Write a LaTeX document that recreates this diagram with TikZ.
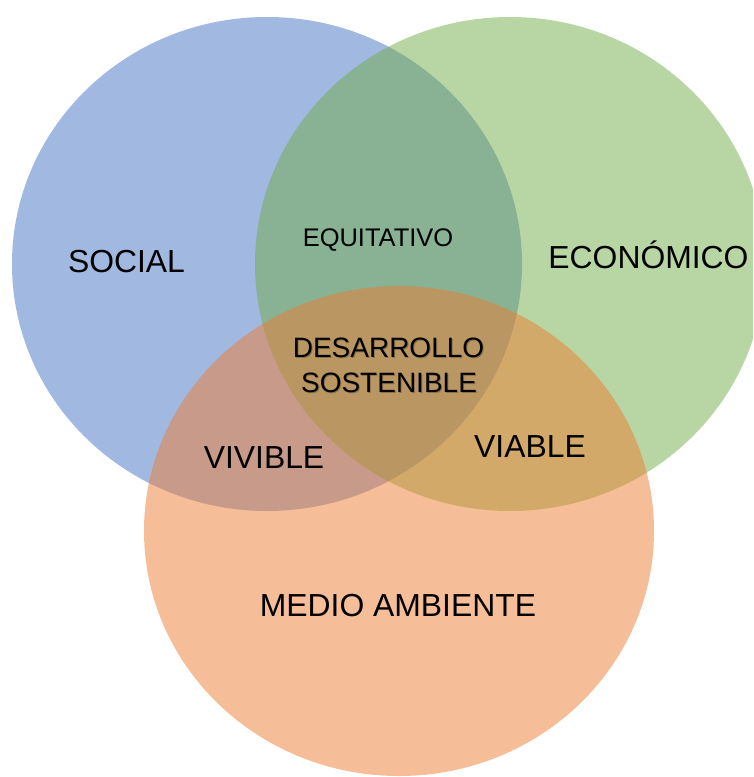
\documentclass[tikz,border=0pt]{standalone}
\usepackage{fontspec}
\setmainfont{Liberation Sans}
\begin{document}
\begin{tikzpicture}[x=0.75pt,y=-0.75pt,
  setblob/.style={fill opacity=0.5, draw=none},
  biglbl/.style={anchor=base, inner sep=0pt, font=\fontsize{23.9}{28}\selectfont},
  midlbl/.style={anchor=base, inner sep=0pt, font=\fontsize{21}{25}\selectfont},
  smalllbl/.style={anchor=base, inner sep=0pt, font=\fontsize{19.1}{23}\selectfont}]
\definecolor{cblue}{HTML}{4472C4}
\definecolor{cgreen}{HTML}{70AD47}
\definecolor{corange}{HTML}{ED7D31}
\useasboundingbox (0,0) rectangle (753,777);
\begin{scope}
\clip (0,0) rectangle (753,777);
\fill[setblob, cblue] (267,264) ellipse [x radius=255, y radius=247];
\fill[setblob, cgreen] (510,264) ellipse [x radius=255, y radius=247];
\fill[setblob, corange] (399,531) ellipse [x radius=255, y radius=245];
\end{scope}
\node[biglbl] (social) at (126.5,272) {SOCIAL};
\node[biglbl] (econ) at (648.5,268) {ECONÓMICO};
\node[smalllbl] (equi) at (378,246) {EQUITATIVO};
\node[midlbl, text=black, opacity=0.25] (ds1s) at (389.5,358.7) {DESARROLLO};
\node[midlbl, text=black, opacity=0.25] (ds2s) at (390,393.2) {SOSTENIBLE};
\node[midlbl] (ds1) at (388.5,357.5) {DESARROLLO};
\node[midlbl] (ds2) at (389,392) {SOSTENIBLE};
\node[biglbl] (vivible) at (264,468) {VIVIBLE};
\node[biglbl] (viable) at (530,457) {VIABLE};
\node[biglbl] (medio) at (398,616) {MEDIO AMBIENTE};
\end{tikzpicture}
\end{document}
